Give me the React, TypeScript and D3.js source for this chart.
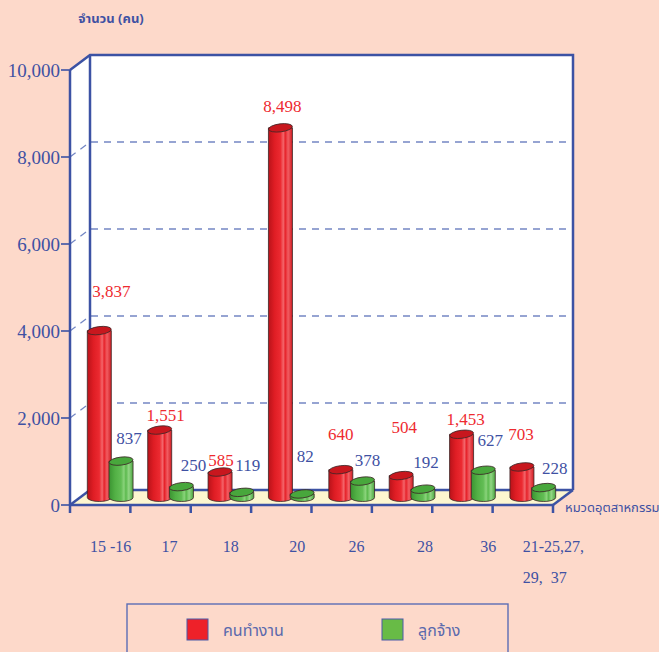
import * as d3 from "d3";
import React, { useEffect } from "react";

// category codes (หมวดอุตสาหกรรม), each entry is the lines of its tick label
const categoryLabels: string[][] = [
  ["15 -16"],
  ["17"],
  ["18"],
  ["20"],
  ["26"],
  ["28"],
  ["36"],
  ["21-25,27,", "29,  37"],
];
const workers = [3837, 1551, 585, 8498, 640, 504, 1453, 703]; // คนทำงาน
const employees = [837, 250, 119, 82, 378, 192, 627, 228]; // ลูกจ้าง
const yTicks = [0, 2000, 4000, 6000, 8000, 10000];
const seriesNames = ["คนทำงาน", "ลูกจ้าง"];

// hand placed value labels in the original, offsets from the bar top
const workerLabelNudge = [
  [12, -40], [6, -15], [1, -12], [2, -22], [0, -36], [3, -49], [4, -15], [-1, -33],
];
const employeeLabelNudge = [
  [8, -23], [12, -22], [6, -27], [3, -38], [5, -21], [3, -27], [7, -30], [11, -20],
];
const tickLabelShift = [20, 31, 32, 38, 37, 45, 48, 30];

const W = 659;
const H = 652;
const BG = "#fdd9ca";
const BLUE = "#3c52a4";
const GRID = "#7487c4";
const RED_TXT = "#ee2a30";
const BLUE_TXT = "#3f51a3";
const SERIF = "'Liberation Serif', 'Times New Roman', serif";
const THAI = "Tahoma, 'Noto Sans Thai', 'Noto Sans', sans-serif";

// depth offset of the back wall
const DX = 20;
const DY = -15;

const App: React.FC = () => {
  useEffect(() => {
    document.body.style.margin = "0";
    document.body.style.background = BG;
  }, []);

  const x0 = 70;
  const x1 = 553;
  const y = d3.scaleLinear().domain([0, 10000]).range([505, 70]);
  const x = d3
    .scaleBand<number>()
    .domain(d3.range(categoryLabels.length))
    .range([x0, x1])
    .padding(0);
  const bw = x.bandwidth();

  const baseY = y(0) + DY / 2;
  const barTop = (v: number) => baseY - (y(0) - y(v));
  const rx = 12;
  const ry = 4;

  const cylinder = (
    cx: number,
    v: number,
    grad: string,
    topFill: string,
    key: string
  ) => {
    const top = barTop(v);
    const body = `M${cx - rx},${top} L${cx - rx},${baseY} A${rx},${ry} 0 0 0 ${
      cx + rx
    },${baseY} L${cx + rx},${top} Z`;
    return (
      <g key={key}>
        <path d={body} fill={`url(#${grad})`} stroke="#3b2626" strokeWidth={0.8} />
        <ellipse
          cx={cx}
          cy={top}
          rx={rx}
          ry={ry}
          transform={`rotate(-7 ${cx} ${top})`}
          fill={topFill}
          stroke="#3b2626"
          strokeWidth={0.8}
        />
      </g>
    );
  };

  const gridTicks = yTicks.filter((t) => t > 0 && t < 10000);

  return (
    <svg width={W} height={H} style={{ display: "block", background: BG }}>
      <defs>
        <linearGradient id="redBody" x1="0" x2="1" y1="0" y2="0">
          <stop offset="0%" stopColor="#b9131a" />
          <stop offset="25%" stopColor="#df1d24" />
          <stop offset="50%" stopColor="#ec2a31" />
          <stop offset="62%" stopColor="#f3666b" />
          <stop offset="70%" stopColor="#e6222a" />
          <stop offset="82%" stopColor="#f15d62" />
          <stop offset="100%" stopColor="#d11b22" />
        </linearGradient>
        <linearGradient id="greenBody" x1="0" x2="1" y1="0" y2="0">
          <stop offset="0%" stopColor="#3b9432" />
          <stop offset="25%" stopColor="#52b045" />
          <stop offset="50%" stopColor="#62bd54" />
          <stop offset="62%" stopColor="#8ad37b" />
          <stop offset="70%" stopColor="#5bb94d" />
          <stop offset="82%" stopColor="#92d684" />
          <stop offset="100%" stopColor="#4aa53f" />
        </linearGradient>
      </defs>

      {/* axis title */}
      <text
        x={111}
        y={23}
        textAnchor="middle"
        fontFamily={THAI}
        fontWeight="bold"
        fontSize={13}
        fill={BLUE_TXT}
      >
        จำนวน (คน)
      </text>

      {/* walls and floor */}
      <polygon
        points={`${x0},${y(10000)} ${x0 + DX},${y(10000) + DY} ${x0 + DX},${y(0) + DY} ${x0},${y(0)}`}
        fill="#fff"
      />
      <rect
        x={x0 + DX}
        y={y(10000) + DY}
        width={x1 - x0}
        height={y(0) - y(10000)}
        fill="#fff"
      />
      <polygon
        points={`${x0},${y(0)} ${x1},${y(0)} ${x1 + DX},${y(0) + DY} ${x0 + DX},${y(0) + DY}`}
        fill="#fdf6cf"
      />

      {/* dashed grid lines on left wall and back wall */}
      {gridTicks.map((t) => (
        <path
          key={`g${t}`}
          d={`M${x0},${y(t)} L${x0 + DX},${y(t) + DY} L${x1 + DX},${y(t) + DY}`}
          fill="none"
          stroke={GRID}
          strokeWidth={1.3}
          strokeDasharray="7,6"
        />
      ))}

      {/* box frame */}
      <g stroke={BLUE} strokeWidth={2.5} fill="none" strokeLinejoin="miter">
        <path
          d={`M${x0},${y(10000)} L${x0 + DX},${y(10000) + DY} L${x1 + DX},${y(10000) + DY} L${x1 + DX},${y(0) + DY}`}
        />
        <path d={`M${x0 + DX},${y(10000) + DY} L${x0 + DX},${y(0) + DY} L${x1 + DX},${y(0) + DY}`} />
        <path d={`M${x0},${y(0)} L${x0 + DX},${y(0) + DY}`} />
        <path d={`M${x1},${y(0)} L${x1 + DX},${y(0) + DY}`} />
      </g>

      {/* bars */}
      {workers.map((v, i) => {
        const start = x(i)!;
        return (
          <g key={`bar${i}`}>
            {cylinder(start + DX / 2 + bw * 0.32, v, "redBody", "#c8171e", `r${i}`)}
            {cylinder(start + DX / 2 + bw * 0.68, employees[i], "greenBody", "#48a73c", `e${i}`)}
          </g>
        );
      })}

      {/* front axes */}
      <g stroke={BLUE} strokeWidth={2.5} fill="none">
        <line x1={x0} x2={x0} y1={y(10000)} y2={y(0) + 8} />
        <line x1={x0} x2={x1} y1={y(0)} y2={y(0)} />
        {d3.range(1, categoryLabels.length + 1).map((k) => {
          const xx = k < categoryLabels.length ? x(k)! : x1;
          return <line key={`xt${k}`} x1={xx} x2={xx} y1={y(0)} y2={y(0) + 8} />;
        })}
        {yTicks.map((t) => (
          <line key={`yt${t}`} x1={x0 - 9} x2={x0} y1={y(t)} y2={y(t)} strokeWidth={1.6} />
        ))}
      </g>

      {/* y tick labels */}
      {yTicks.map((t) => (
        <text
          key={`yl${t}`}
          x={x0 - 10}
          y={y(t) + 6.5}
          textAnchor="end"
          fontFamily={SERIF}
          fontSize={19}
          fill={BLUE_TXT}
        >
          {d3.format(",")(t)}
        </text>
      ))}

      {/* x tick labels */}
      {categoryLabels.map((lines, i) => (
        <text
          key={`xl${i}`}
          fontFamily={SERIF}
          fontSize={16}
          fill={BLUE_TXT}
          style={{ whiteSpace: "pre" }}
        >
          {lines.map((ln, j) => (
            <tspan key={j} x={x(i)! + tickLabelShift[i]} y={551.5 + j * 31.5}>
              {ln}
            </tspan>
          ))}
        </text>
      ))}

      <text x={565} y={512} fontFamily={THAI} fontSize={13} fill={BLUE_TXT}>
        หมวดอุตสาหกรรม
      </text>

      {/* value labels */}
      {workers.map((v, i) => (
        <text
          key={`wl${i}`}
          x={x(i)! + DX / 2 + bw * 0.32 + workerLabelNudge[i][0]}
          y={barTop(v) + workerLabelNudge[i][1] + 6}
          textAnchor="middle"
          fontFamily={SERIF}
          fontSize={17}
          fill={RED_TXT}
        >
          {d3.format(",")(v)}
        </text>
      ))}
      {employees.map((v, i) => (
        <text
          key={`el${i}`}
          x={x(i)! + DX / 2 + bw * 0.68 + employeeLabelNudge[i][0]}
          y={barTop(v) + employeeLabelNudge[i][1] + 6}
          textAnchor="middle"
          fontFamily={SERIF}
          fontSize={17}
          fill={BLUE_TXT}
        >
          {d3.format(",")(v)}
        </text>
      ))}

      {/* legend */}
      <rect x={127} y={604} width={381} height={60} fill="none" stroke="#5b6db6" strokeWidth={1.4} />
      {seriesNames.map((name, i) => {
        const lx = 187 + i * 195;
        return (
          <g key={`lg${i}`}>
            <rect
              x={lx}
              y={619}
              width={21}
              height={21}
              fill={i === 0 ? "#ee2129" : "#68bb46"}
              stroke="#4a5aa8"
              strokeWidth={1}
            />
            <text x={lx + 36} y={636} fontFamily={THAI} fontSize={16} fill="#5a69ad">
              {name}
            </text>
          </g>
        );
      })}
    </svg>
  );
};

export default App;
